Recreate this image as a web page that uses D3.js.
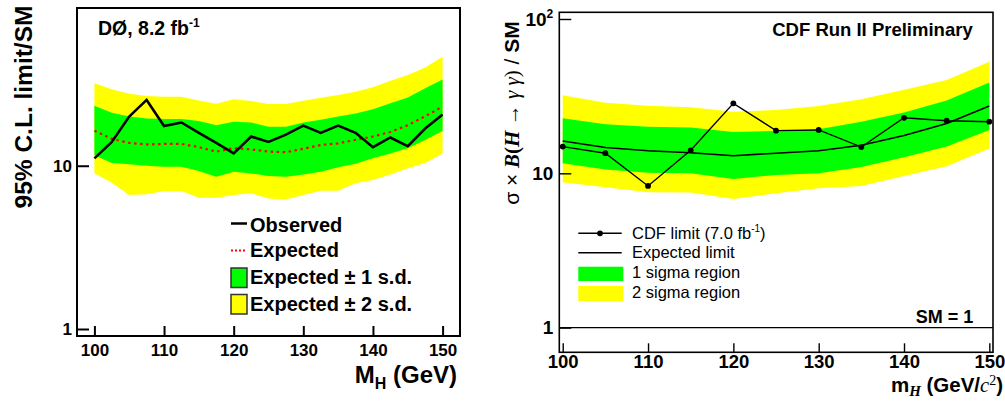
<!DOCTYPE html>
<html><head><meta charset="utf-8">
<script src="https://cdn.jsdelivr.net/npm/d3@7"></script>
<style>body{margin:0;background:#fff} svg{display:block}</style>
</head><body><svg id="c" width="1005" height="403"></svg>
<script>
// ---------- Data: left panel (D0) ----------
const leftMass = [100,102.5,105,107.5,110,112.5,115,117.5,120,122.5,125,127.5,130,132.5,135,137.5,140,142.5,145,147.5,150];
const leftObserved = [11.1,14.0,20.0,25.3,17.5,18.4,15.9,13.8,11.9,15.1,14.0,15.5,17.6,15.9,17.6,15.9,13.0,14.9,13.2,16.9,20.6];
const leftExpected = [16.4,14.6,13.8,13.5,13.6,13.6,13.0,12.2,12.8,12.6,12.2,12.1,12.7,13.4,13.7,14.4,15.1,16.1,17.7,20.1,23.0];
const leftPlus1  = [23.3,21.1,20.0,19.5,19.3,19.3,18.8,17.7,18.6,18.4,17.3,17.3,18.4,19.1,20.0,20.9,22.2,24.1,26.2,29.8,33.8];
const leftMinus1 = [11.6,10.4,10.2,10.0,9.86,9.86,9.29,8.57,9.19,8.97,8.65,8.57,8.85,9.19,9.78,10.3,11.1,11.9,12.8,14.4,16.4];
const leftPlus2  = [32.0,29.4,27.6,26.7,26.5,26.5,25.1,24.0,25.5,24.9,23.9,23.9,25.0,26.1,27.1,28.4,30.3,33.2,35.9,40.0,46.5];
const leftMinus2 = [8.98,7.87,6.62,6.68,7.0,7.0,6.37,6.37,6.62,6.78,6.31,6.22,6.62,7.03,7.03,7.80,8.17,8.85,9.64,10.4,11.9];
const leftXTicks = [100,110,120,130,140,150];
const leftYTicks = [1,10];

// ---------- Data: right panel (CDF) ----------
const rightMass = [100,105,110,115,120,125,130,135,140,145,150];
const rightObserved = [14.9,13.5,8.28,14.1,28.4,18.9,19.1,14.8,22.9,21.9,21.6];
const rightExpected = [16.2,14.7,14.0,13.6,13.0,13.5,14.0,15.2,17.6,21.0,27.3];
const rightPlus1  = [22.7,20.8,20.0,19.8,18.5,18.8,19.3,21.6,24.8,29.6,38.7];
const rightMinus1 = [11.6,10.6,10.1,10.0,9.19,9.75,10.0,11.0,12.7,14.9,19.1];
const rightPlus2  = [32.1,28.7,27.4,26.8,25.1,25.7,27.3,30.2,34.8,40.3,52.9];
const rightMinus2 = [8.75,8.11,7.53,7.5,6.81,7.42,8.0,8.28,9.61,11.1,14.5];
const rightXTicks = [100,110,120,130,140,150];
const rightYTicks = [1,10,100];
const smLine = [1];

const SANS = "'Liberation Sans', Arial, Helvetica, sans-serif";
const SERIF = "'Liberation Serif', 'Times New Roman', serif";
const YELLOW = "#ffff00", GREEN = "#00ff00";

const svg = d3.select("#c").style("font-family", SANS);

function drawPanel(cfg){
  const g = svg.append("g");
  const x = d3.scaleLinear().domain(cfg.xDomain).range(cfg.xRange);
  const y = d3.scaleLog().domain(cfg.yDomain).range(cfg.yRange);
  const pts = cfg.mass.map((m,i)=>i);
  const band = (lo,hi)=>d3.area().x(i=>x(cfg.mass[i])).y0(i=>y(lo[i])).y1(i=>y(hi[i]));
  g.append("path").attr("d", band(cfg.m2,cfg.p2)(pts)).attr("fill",YELLOW);
  g.append("path").attr("d", band(cfg.m1,cfg.p1)(pts)).attr("fill",GREEN);
  return {g,x,y,pts};
}

// ================= LEFT PANEL =================
(function(){
  const L = drawPanel({xDomain:[97.5,152.5], xRange:[77,460], yDomain:[0.906,92.5], yRange:[336,8],
    mass:leftMass, m2:leftMinus2, p2:leftPlus2, m1:leftMinus1, p1:leftPlus1});
  const {g,x,y,pts} = L;
  const line = arr => d3.line().x(i=>x(leftMass[i])).y(i=>y(arr[i]))(pts);
  g.append("path").attr("d", line(leftExpected)).attr("fill","none").attr("stroke","#ff0000")
    .attr("stroke-width",2.2).attr("stroke-dasharray","2.5,3.5");
  g.append("path").attr("d", line(leftObserved)).attr("fill","none").attr("stroke","#000")
    .attr("stroke-width",2.6).attr("stroke-linejoin","miter");

  // axes
  const xAx = g.append("g").attr("transform","translate(0,336)");
  xAx.call(d3.axisBottom(x).tickValues(x.ticks(25).filter(v=>!leftXTicks.includes(v))).tickSize(-5).tickFormat(""));
  xAx.call(d3.axisBottom(x).tickValues(leftXTicks).tickSize(-10).tickPadding(8).tickFormat(d3.format("d")));
  xAx.select(".domain").remove();
  xAx.selectAll("line").attr("stroke-width",2);
  xAx.selectAll("text").attr("font-size",17).attr("font-weight","bold").attr("fill","#000").attr("font-family",SANS);

  const yAx = g.append("g").attr("transform","translate(77,0)");
  yAx.call(d3.axisLeft(y).tickValues(y.ticks().filter(v=>!leftYTicks.includes(v))).tickSize(-6).tickFormat(""));
  yAx.call(d3.axisLeft(y).tickValues(leftYTicks).tickSize(-12).tickPadding(5).tickFormat(d3.format("d")));
  yAx.select(".domain").remove();
  yAx.selectAll("line").attr("stroke-width",2);
  yAx.selectAll("text").attr("font-size",17).attr("font-weight","bold").attr("fill","#000").attr("font-family",SANS);

  g.append("rect").attr("x",77).attr("y",8).attr("width",383).attr("height",328)
    .attr("fill","none").attr("stroke","#000").attr("stroke-width",2);

  // titles
  g.append("text").attr("transform","translate(32,107) rotate(-90)")
    .attr("text-anchor","middle").attr("font-size",24.5).attr("font-weight","bold").text("95% C.L. limit/SM");
  const xt = g.append("text").attr("x",457).attr("y",383).attr("text-anchor","end")
    .attr("font-size",24).attr("font-weight","bold");
  xt.append("tspan").text("M");
  xt.append("tspan").attr("font-size",16).attr("dy",6).text("H");
  xt.append("tspan").attr("dy",-6).text(" (GeV)");

  const d0 = g.append("text").attr("x",98).attr("y",35).attr("font-size",19.5).attr("font-weight","bold");
  d0.append("tspan").text("DØ, 8.2 fb");
  d0.append("tspan").attr("font-size",12).attr("dy",-8).text("-1");

  // legend
  const lg = g.append("g").attr("font-size",20).attr("font-weight","bold");
  lg.append("line").attr("x1",231).attr("x2",247).attr("y1",223.5).attr("y2",223.5).attr("stroke","#000").attr("stroke-width",2.5);
  lg.append("text").attr("x",250).attr("y",231.5).text("Observed");
  lg.append("line").attr("x1",231).attr("x2",247).attr("y1",250.5).attr("y2",250.5).attr("stroke","#ff0000").attr("stroke-width",2).attr("stroke-dasharray","2,2");
  lg.append("text").attr("x",250).attr("y",257).text("Expected");
  lg.append("rect").attr("x",231).attr("y",268).attr("width",16).attr("height",19.5).attr("fill",GREEN).attr("stroke","#333").attr("stroke-width",1.5);
  lg.append("text").attr("x",250).attr("y",284).text("Expected ± 1 s.d.");
  lg.append("rect").attr("x",231).attr("y",294.5).attr("width",16).attr("height",19.5).attr("fill",YELLOW).attr("stroke","#333").attr("stroke-width",1.5);
  lg.append("text").attr("x",250).attr("y",310.5).text("Expected ± 2 s.d.");
})();

// ================= RIGHT PANEL =================
(function(){
  const R = drawPanel({xDomain:[99.6,150.43], xRange:[559.3,993], yDomain:[0.692,110.5], yRange:[352.3,12.3],
    mass:rightMass, m2:rightMinus2, p2:rightPlus2, m1:rightMinus1, p1:rightPlus1});
  const {g,x,y,pts} = R;
  const line = arr => d3.line().x(i=>x(rightMass[i])).y(i=>y(arr[i]))(pts);
  g.append("path").attr("d", line(rightExpected)).attr("fill","none").attr("stroke","#000").attr("stroke-width",1.6);
  g.append("path").attr("d", line(rightObserved)).attr("fill","none").attr("stroke","#000").attr("stroke-width",1.4);
  g.selectAll("circle.obs").data(pts).join("circle").attr("class","obs")
    .attr("cx",i=>x(rightMass[i])).attr("cy",i=>y(rightObserved[i])).attr("r",2.9).attr("fill","#000");

  // SM = 1 line
  g.selectAll("line.sm").data(smLine).join("line").attr("class","sm")
    .attr("x1",559.3).attr("x2",993).attr("y1",d=>y(d)).attr("y2",d=>y(d)).attr("stroke","#000").attr("stroke-width",1.4);

  const xAx = g.append("g").attr("transform","translate(0,352.3)");
  xAx.call(d3.axisBottom(x).tickValues(x.ticks(25).filter(v=>!rightXTicks.includes(v))).tickSize(-4.5).tickFormat(""));
  xAx.call(d3.axisBottom(x).tickValues(rightXTicks).tickSize(-9).tickPadding(2.5).tickFormat(d3.format("d")));
  xAx.select(".domain").remove();
  xAx.selectAll("line").attr("stroke-width",1.4);
  xAx.selectAll("text").attr("font-size",18.5).attr("font-weight","bold").attr("fill","#000").attr("font-family",SANS);

  const yAx = g.append("g").attr("transform","translate(559.3,0)");
  yAx.call(d3.axisLeft(y).tickValues(y.ticks().filter(v=>!rightYTicks.includes(v))).tickSize(-6).tickFormat(""));
  yAx.call(d3.axisLeft(y).tickValues(rightYTicks).tickSize(-12).tickPadding(6).tickFormat(d=>d===100?"10":d3.format("d")(d)));
  yAx.select(".domain").remove();
  yAx.selectAll("line").attr("stroke-width",1.4);
  yAx.selectAll("text").attr("font-size",19).attr("font-weight","bold").attr("fill","#000").attr("font-family",SANS);
  yAx.selectAll(".tick").filter(d=>d===100).select("text")
    .append("tspan").attr("font-size",12).attr("dy",-8).text("2");

  g.append("rect").attr("x",559.3).attr("y",12.3).attr("width",433.7).attr("height",340)
    .attr("fill","none").attr("stroke","#000").attr("stroke-width",1.6);

  // y title
  const yt = g.append("text").attr("transform","translate(518.5,113) rotate(-90)")
    .attr("text-anchor","middle").attr("font-size",21);
  yt.append("tspan").attr("font-family",SANS).text("σ ");
  yt.append("tspan").attr("font-family",SANS).text("× ");
  yt.append("tspan").attr("font-family",SERIF).attr("font-weight","bold").attr("font-style","italic").text("B");
  yt.append("tspan").attr("font-family",SERIF).attr("font-weight","bold").text("(");
  yt.append("tspan").attr("font-family",SERIF).attr("font-weight","bold").attr("font-style","italic").text("H");
  yt.append("tspan").attr("font-family",SERIF).text(" → ");
  yt.append("tspan").attr("font-family",SERIF).attr("font-style","italic").text("γ γ");
  yt.append("tspan").attr("font-family",SERIF).text(")");
  yt.append("tspan").attr("font-family",SANS).text(" / ");
  yt.append("tspan").attr("font-family",SANS).attr("font-weight","bold").text("SM");

  // x title
  const xt = g.append("text").attr("x",1003).attr("y",392).attr("text-anchor","end")
    .attr("font-size",20.5).attr("font-weight","bold");
  xt.append("tspan").text("m");
  xt.append("tspan").attr("font-family",SERIF).attr("font-style","italic").attr("font-size",15).attr("dy",4).text("H");
  xt.append("tspan").attr("dy",-4).text(" (GeV/");
  xt.append("tspan").attr("font-family",SERIF).attr("font-style","italic").attr("font-weight","normal").text("c");
  xt.append("tspan").attr("font-family",SERIF).attr("font-weight","normal").attr("font-size",14).attr("dy",-7).text("2");
  xt.append("tspan").attr("dy",7).text(")");

  g.append("text").attr("x",972.7).attr("y",35.5).attr("text-anchor","end").attr("font-size",18.5)
    .attr("font-weight","bold").text("CDF Run II Preliminary");
  g.append("text").attr("x",973.3).attr("y",323.3).attr("text-anchor","end").attr("font-size",18)
    .attr("font-weight","bold").text("SM = 1");

  // legend
  const lg = g.append("g").attr("font-size",16.5);
  lg.append("line").attr("x1",578.3).attr("x2",621.7).attr("y1",233.3).attr("y2",233.3).attr("stroke","#000").attr("stroke-width",1.4);
  lg.append("circle").attr("cx",600).attr("cy",233.3).attr("r",2.9).attr("fill","#000");
  const t1 = lg.append("text").attr("x",632).attr("y",238.5);
  t1.append("tspan").text("CDF limit (7.0 fb");
  t1.append("tspan").attr("font-size",10).attr("dy",-7).text("-1");
  t1.append("tspan").attr("dy",7).text(")");
  lg.append("line").attr("x1",578.3).attr("x2",621.7).attr("y1",252.7).attr("y2",252.7).attr("stroke","#000").attr("stroke-width",1.4);
  lg.append("text").attr("x",632).attr("y",257.5).text("Expected limit");
  lg.append("rect").attr("x",578.3).attr("y",266.7).attr("width",45).attr("height",14.3).attr("fill",GREEN);
  lg.append("text").attr("x",632).attr("y",278).text("1 sigma region");
  lg.append("rect").attr("x",578.3).attr("y",286).attr("width",45).attr("height",15).attr("fill",YELLOW);
  lg.append("text").attr("x",632).attr("y",298).text("2 sigma region");
})();
</script></body></html>
